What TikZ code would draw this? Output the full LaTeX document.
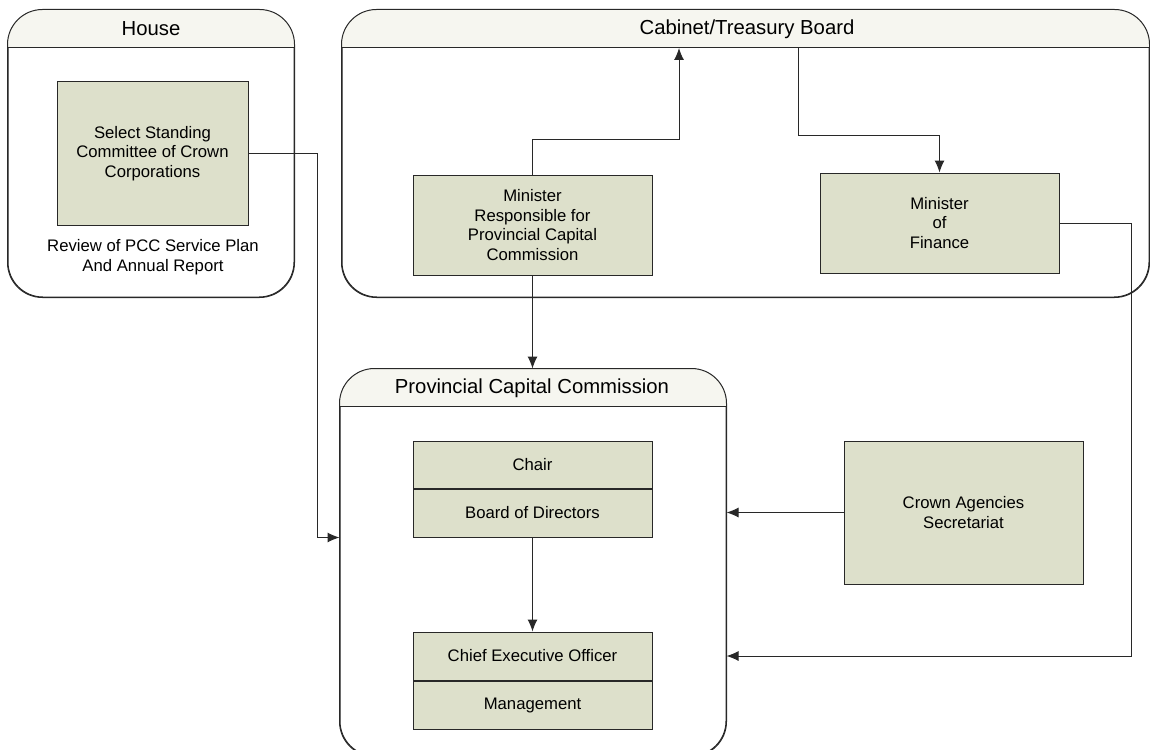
\documentclass[tikz,border=0pt]{standalone}
\usepackage{fontspec}
\setmainfont{Liberation Sans}
\usepackage{tikz}
\usetikzlibrary{arrows.meta,positioning,calc}

\definecolor{boxfill}{RGB}{221,224,203}
\definecolor{headfill}{RGB}{246,246,240}
\definecolor{linegray}{RGB}{40,40,40}

\begin{document}
\begin{tikzpicture}[x=1pt, y=-1pt,
        lane/.style={draw=linegray, line width=1pt, rounded corners=35pt, inner sep=0pt},
        block/.style={rectangle, draw=linegray, line width=1pt, fill=boxfill, minimum width=239pt, align=center, inner sep=0pt, font=\fontsize{16.7}{19.5}\selectfont},
        title/.style={font=\fontsize{20.3}{23}\selectfont},
        arr/.style={-{Latex[length=12pt,width=10pt]}, line width=1pt, draw=linegray}
    ]
        \useasboundingbox (0,0) rectangle (1150,749);
        \clip (0,0) rectangle (1150,749);

        % Swimlanes
        \node[lane, minimum width=286pt, minimum height=287pt] (house) at (151,153.5) {};
        \node[lane, minimum width=807pt, minimum height=287pt] (cabinet) at (745.5,153.5) {};
        \node[lane, minimum width=386pt, minimum height=387pt] (pcc) at (533,562.5) {};

        % Lane headers
        \foreach \lane in {house,cabinet,pcc} {
            \begin{scope}
                \clip (\lane.north west) rectangle ($(\lane.north east)+(0,38)$);
                \fill[headfill, rounded corners=35pt] (\lane.north west) rectangle (\lane.south east);
            \end{scope}
            \draw[linegray, line width=1pt, rounded corners=35pt] (\lane.north west) rectangle (\lane.south east);
            \draw[linegray, line width=1pt] ($(\lane.north west)+(0,38)$) -- ($(\lane.north east)+(0,38)$);
        }
        \node[title] (houset) at (151,29) {House};
        \node[title] (cabinett) at (747,29) {Cabinet/Treasury Board};
        \node[title] (pcct) at (532,388) {Provincial Capital Commission};

        % House
        \node[block, minimum width=191pt, minimum height=143pt] (select) at (152.5,153.5) {Select Standing\\Committee of Crown\\Corporations};
        \node[font=\fontsize{16.7}{19.5}\selectfont, align=center] (review) at (153,257) {Review of PCC Service Plan\\And Annual Report};

        % Cabinet/Treasury Board
        \node[block, minimum height=100pt] (minres) at (532.5,225) {Minister\\Responsible for\\Provincial Capital\\Commission};
        \node[block, minimum height=100pt] (minfin) at (939.5,223) {Minister\\of\\Finance};
        \coordinate (cabin) at (679,48);
        \coordinate (cabout) at (798,48);

        % Provincial Capital Commission
        \node[block, minimum height=47pt] (chair) at (532.5,464.5) {Chair};
        \node[block, minimum height=48pt, below=0pt of chair] (board) {Board of Directors};
        \node[block, minimum height=48pt] (ceo) at (532.5,656) {Chief Executive Officer};
        \node[block, minimum height=48pt, below=0pt of ceo] (mgmt) {Management};

        % Crown Agencies
        \node[block, minimum height=143pt] (cas) at (963.5,512.5) {Crown Agencies\\Secretariat};

        % Arrows
        \draw[arr] (select.east) -- ++(69,0) |- (pcc.west |- board.south);
        \draw[arr] (minres.north) -- ++(0,-35) -| (cabin);
        \draw[arr] (cabout) -- ++(0,87) -| (minfin.north);
        \draw[arr] (minres.south) -- (pcc.north -| minres.south);
        \draw[arr] (board.south) -- (ceo.north);
        \draw[arr] (cas.west) -- (pcc.east |- cas.west);
        \draw[arr] (minfin.east) -- ++(72,0) |- (pcc.east |- ceo.center);
    \end{tikzpicture}
\end{document}
